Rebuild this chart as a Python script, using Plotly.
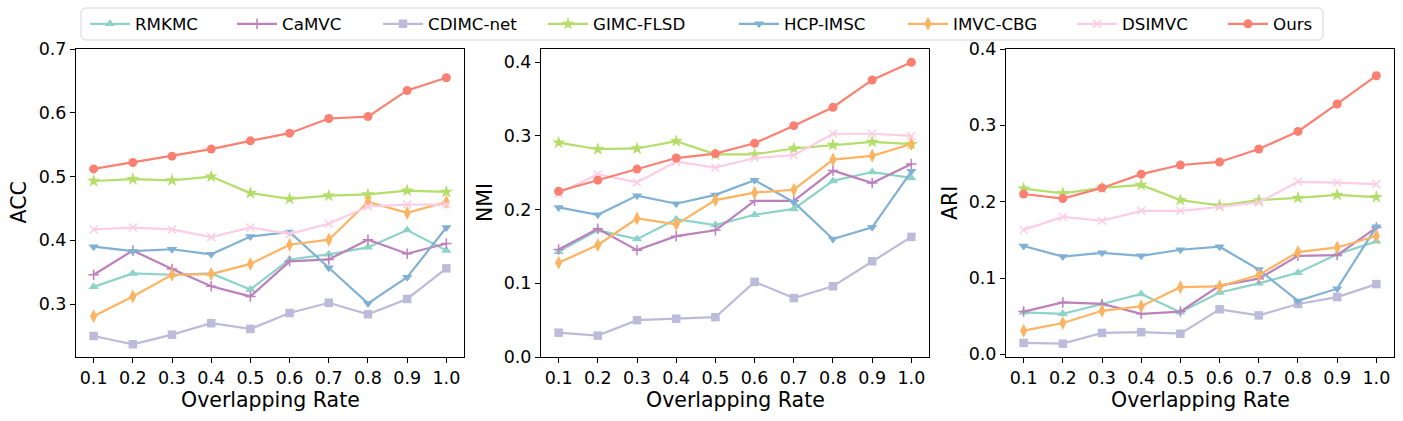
import plotly.graph_objects as go

W, H = 1403, 421

rates = [0.1, 0.2, 0.3, 0.4, 0.5, 0.6, 0.7, 0.8, 0.9, 1.0]
methods = ["RMKMC", "CaMVC", "CDIMC-net", "GIMC-FLSD", "HCP-IMSC", "IMVC-CBG", "DSIMVC", "Ours"]

acc_rmkmc = [0.327, 0.348, 0.346, 0.348, 0.323, 0.370, 0.378, 0.389, 0.416, 0.384]
acc_camvc = [0.346, 0.384, 0.355, 0.328, 0.312, 0.367, 0.370, 0.401, 0.379, 0.395]
acc_cdimc = [0.250, 0.237, 0.252, 0.270, 0.261, 0.286, 0.302, 0.284, 0.308, 0.356]
acc_gimc = [0.493, 0.496, 0.494, 0.500, 0.474, 0.465, 0.470, 0.472, 0.478, 0.476]
acc_hcp = [0.390, 0.383, 0.386, 0.378, 0.406, 0.413, 0.357, 0.301, 0.342, 0.420]
acc_imvc = [0.281, 0.312, 0.346, 0.347, 0.363, 0.393, 0.401, 0.460, 0.443, 0.460]
acc_dsimvc = [0.417, 0.420, 0.417, 0.405, 0.420, 0.410, 0.426, 0.453, 0.456, 0.456]
acc_ours = [0.512, 0.522, 0.532, 0.543, 0.556, 0.568, 0.591, 0.594, 0.635, 0.655]

nmi_rmkmc = [0.143, 0.172, 0.160, 0.187, 0.179, 0.193, 0.201, 0.239, 0.251, 0.243]
nmi_camvc = [0.146, 0.174, 0.145, 0.164, 0.172, 0.212, 0.212, 0.253, 0.236, 0.262]
nmi_cdimc = [0.033, 0.029, 0.050, 0.052, 0.054, 0.102, 0.080, 0.096, 0.130, 0.163]
nmi_gimc = [0.291, 0.282, 0.283, 0.293, 0.275, 0.275, 0.283, 0.288, 0.292, 0.289]
nmi_hcp = [0.203, 0.193, 0.219, 0.208, 0.220, 0.240, 0.210, 0.160, 0.176, 0.252]
nmi_imvc = [0.128, 0.152, 0.188, 0.180, 0.213, 0.223, 0.227, 0.268, 0.273, 0.289]
nmi_dsimvc = [0.222, 0.248, 0.237, 0.265, 0.257, 0.270, 0.274, 0.303, 0.303, 0.300]
nmi_ours = [0.225, 0.240, 0.255, 0.270, 0.276, 0.290, 0.314, 0.339, 0.376, 0.400]

ari_rmkmc = [0.055, 0.053, 0.066, 0.079, 0.055, 0.081, 0.093, 0.107, 0.131, 0.148]
ari_camvc = [0.056, 0.068, 0.066, 0.053, 0.056, 0.090, 0.099, 0.129, 0.130, 0.166]
ari_cdimc = [0.015, 0.014, 0.028, 0.029, 0.027, 0.059, 0.051, 0.066, 0.075, 0.092]
ari_gimc = [0.217, 0.211, 0.218, 0.222, 0.202, 0.195, 0.202, 0.205, 0.209, 0.206]
ari_hcp = [0.142, 0.128, 0.133, 0.129, 0.137, 0.141, 0.111, 0.070, 0.086, 0.167]
ari_imvc = [0.031, 0.041, 0.057, 0.063, 0.088, 0.089, 0.104, 0.134, 0.140, 0.155]
ari_dsimvc = [0.163, 0.180, 0.175, 0.188, 0.188, 0.193, 0.199, 0.226, 0.225, 0.223]
ari_ours = [0.210, 0.204, 0.218, 0.236, 0.248, 0.252, 0.269, 0.292, 0.328, 0.365]

acc = [acc_rmkmc, acc_camvc, acc_cdimc, acc_gimc, acc_hcp, acc_imvc, acc_dsimvc, acc_ours]
nmi = [nmi_rmkmc, nmi_camvc, nmi_cdimc, nmi_gimc, nmi_hcp, nmi_imvc, nmi_dsimvc, nmi_ours]
ari = [ari_rmkmc, ari_camvc, ari_cdimc, ari_gimc, ari_hcp, ari_imvc, ari_dsimvc, ari_ours]

colors = ["#8DD3C7", "#BC80BD", "#BEBADA", "#B3DE69", "#80B1D3", "#FDB462", "#FCCDE5", "#FB8072"]
symbols = ["triangle-up", "cross-thin", "square", "star", "triangle-down", "diamond-tall", "x-thin", "circle"]
msizes = [9, 7.5, 8.5, 10, 9, 10, 8, 9]
thin = [False, True, False, False, False, False, True, False]

FONT = "DejaVu Sans"
fig = go.Figure()

panels = [(acc, "ACC"), (nmi, "NMI"), (ari, "ARI")]
for p, (data, lab) in enumerate(panels):
    xa = "x" if p == 0 else f"x{p+1}"
    ya = "y" if p == 0 else f"y{p+1}"
    for i, m in enumerate(methods):
        mk = dict(symbol=symbols[i], size=msizes[i], color=colors[i])
        if thin[i]:
            mk["line"] = dict(width=1.5, color=colors[i])
        else:
            mk["line"] = dict(width=0)
        fig.add_trace(go.Scatter(
            x=rates, y=data[i], mode="lines+markers", name=m,
            line=dict(color=colors[i], width=2.2), marker=mk,
            xaxis=xa, yaxis=ya, showlegend=(p == 0),
            legend=("legend" if i == 0 else f"legend{i+1}"),
        ))

xdoms = [(76, 464), (541, 929), (1006, 1394)]
ydom = [1 - 357 / H, 1 - 49 / H]
yranges = [[0.217, 0.70], [0.0, 0.418], [-0.0035, 0.40]]

axis_common = dict(showline=True, linecolor="black", linewidth=1, mirror=True,
                   ticks="outside", ticklen=5, tickwidth=1, tickcolor="black",
                   showgrid=False, zeroline=False, automargin=False,
                   tickfont=dict(family=FONT, size=17.5, color="black"))

layout = dict(width=W, height=H, margin=dict(l=0, r=0, t=0, b=0, autoexpand=False),
              paper_bgcolor="white", plot_bgcolor="white", hovermode=False,
              font=dict(family=FONT, color="black"))
for p in range(3):
    sfx = "" if p == 0 else str(p + 1)
    layout["xaxis" + sfx] = dict(domain=[xdoms[p][0] / W, xdoms[p][1] / W], range=[0.055, 1.045],
                                 tickvals=rates, tickformat=".1f",
                                 anchor="y" + sfx, **axis_common)
    layout["yaxis" + sfx] = dict(domain=ydom, range=yranges[p], dtick=0.1, tick0=0,
                                 tickformat=".1f", anchor="x" + sfx, **axis_common)

# legends, one per entry (text start positions in px)
leg_text_x = [136, 283, 429, 594, 785, 954, 1123, 1274]
for i in range(8):
    key = "legend" if i == 0 else f"legend{i+1}"
    layout[key] = dict(x=(leg_text_x[i] - 51) / W, y=1 - 24 / H, xanchor="left", yanchor="middle",
                       orientation="h", bgcolor="rgba(0,0,0,0)", borderwidth=0,
                       itemwidth=40, font=dict(family=FONT, size=16.7, color="black"))

fig.update_layout(**layout)

# axis labels
ann = []
for p, (data, lab) in enumerate(panels):
    cx = (xdoms[p][0] + xdoms[p][1]) / 2
    ann.append(dict(text="Overlapping Rate", x=cx / W, y=1 - 400 / H, xref="paper", yref="paper",
                    xanchor="center", yanchor="middle", showarrow=False,
                    font=dict(family=FONT, size=20.5, color="black")))
ylx = [18.5, 485, 950]
for p, (data, lab) in enumerate(panels):
    ann.append(dict(text=lab, x=ylx[p] / W, y=1 - 203 / H, xref="paper", yref="paper",
                    xanchor="center", yanchor="middle", showarrow=False, textangle=-90,
                    font=dict(family=FONT, size=20.5, color="black")))
fig.update_layout(annotations=ann)

# legend frame (rounded)
x0, x1, y0, y1, r = 81 / W, 1323 / W, 1 - 40 / H, 1 - 8 / H, 5
rx, ry = r / W, r / H
path = (f"M{x0+rx},{y1} L{x1-rx},{y1} Q{x1},{y1} {x1},{y1-ry} L{x1},{y0+ry} Q{x1},{y0} {x1-rx},{y0} "
        f"L{x0+rx},{y0} Q{x0},{y0} {x0},{y0+ry} L{x0},{y1-ry} Q{x0},{y1} {x0+rx},{y1} Z")
fig.add_shape(type="path", path=path, xref="paper", yref="paper",
              line=dict(color="#d5d5d5", width=1), fillcolor="white", layer="below")

fig.write_html("out.html", config={"displayModeBar": False},
               post_script="document.body.style.margin='0';")
